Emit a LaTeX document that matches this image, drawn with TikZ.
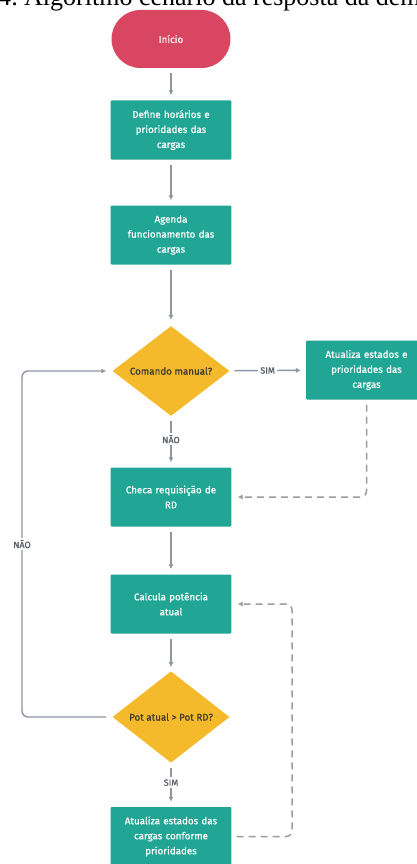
\documentclass[tikz,border=0pt]{standalone}
\usepackage{fontspec}
\setmainfont{Liberation Serif}
\newfontfamily\diagfont[FakeBold=0.7]{Fira Sans}
\usetikzlibrary{shapes.geometric,arrows.meta}
\definecolor{startred}{HTML}{D94661}
\definecolor{boxteal}{HTML}{21A594}
\definecolor{decyellow}{HTML}{F4BA2B}
\definecolor{linegray}{HTML}{8C97A1}
\definecolor{dashgray}{HTML}{9C9C9C}
\definecolor{labelgray}{HTML}{5A5F66}
\definecolor{dectext}{HTML}{3E3A30}
\begin{document}
\begin{tikzpicture}[x=1pt,y=-1pt,
  boxfont/.style={font=\diagfont\fontsize{9.8}{15}\selectfont},
  startbox/.style={rectangle, fill=startred, rounded corners=29pt, minimum width=119pt, minimum height=58pt, text=white, boxfont},
  procbox/.style={rectangle, fill=boxteal, rounded corners=1pt, minimum width=119pt, minimum height=59pt, text width=114pt, align=center, text=white, boxfont},
  decbox/.style={diamond, fill=decyellow, minimum width=117pt, minimum height=88pt, inner sep=0pt, text=dectext, boxfont},
  arr/.style={draw=linegray, line width=1.4pt, -{Latex[length=5pt,width=5pt]}, shorten <=5pt, shorten >=5pt},
  darr/.style={draw=dashgray, line width=1.5pt, dash pattern=on 7pt off 5pt, -{Latex[length=5pt,width=5pt]}, shorten <=5pt, shorten >=6pt, rounded corners=6pt},
  lbl/.style={fill=white, inner sep=2pt, text=labelgray, font=\diagfont\fontsize{9}{10}\selectfont}
]
\useasboundingbox (0,0) rectangle (417,864);
\clip (0,0) rectangle (417,864);

% caption (cut off at the top)
\node[anchor=base east, inner sep=0pt, font=\fontsize{26}{30}\selectfont] (cappre) at (18.5,5.5) {Figura 4.4:};
\node[anchor=base west, inner sep=0pt, font=\fontsize{26}{30}\selectfont] (cap) at (24,5.5) {Algoritmo cenário da resposta da demanda};

% nodes
\node[startbox] (start) at (171,39) {Início};
\node[procbox] (b1) at (171,130) {Define horários e\\prioridades das\\cargas};
\node[procbox] (b2) at (171,235) {Agenda\\funcionamento das\\cargas};
\node[decbox] (d1) at (171,371) {Comando manual?};
\node[procbox] (b3) at (366.5,370) {Atualiza estados e\\prioridades das\\cargas};
\node[procbox] (b4) at (171,497) {Checa requisição de\\RD};
\node[procbox] (b5) at (171,604) {Calcula potência\\atual};
\node[decbox] (d2) at (171,717) {Pot atual > Pot RD?};
\node[procbox] (b6) at (171,836.5) {Atualiza estados das\\cargas conforme\\prioridades};

% connectors
\draw[arr] (start) -- (b1);
\draw[arr] (b1) -- (b2);
\draw[arr, shorten >=6pt] (b2) -- (d1);
\draw[arr] (d1) -- node[lbl] (sim1) {SIM} (b3);
\draw[arr] (d1) -- node[lbl, pos=0.45] (nao1) {NÃO} (b4);
\draw[arr] (b4) -- (b5);
\draw[arr, shorten >=4pt] (b5) -- (d2);
\draw[arr] (d2) -- node[lbl, pos=0.45] (sim2) {SIM} (b6);

\coordinate (loopL) at (22,544);
\draw[arr, rounded corners=6pt, shorten <=6pt, shorten >=6pt] (d2.west) -| (loopL) |- (d1.west);
\node[lbl] (nao2) at (loopL) {NÃO};

\draw[darr] (b3.south) |- (b4.east);
\coordinate (loopR) at (292,720);
\draw[darr] (b6.east) -| (loopR) |- (b5.east);
\end{tikzpicture}
\end{document}
